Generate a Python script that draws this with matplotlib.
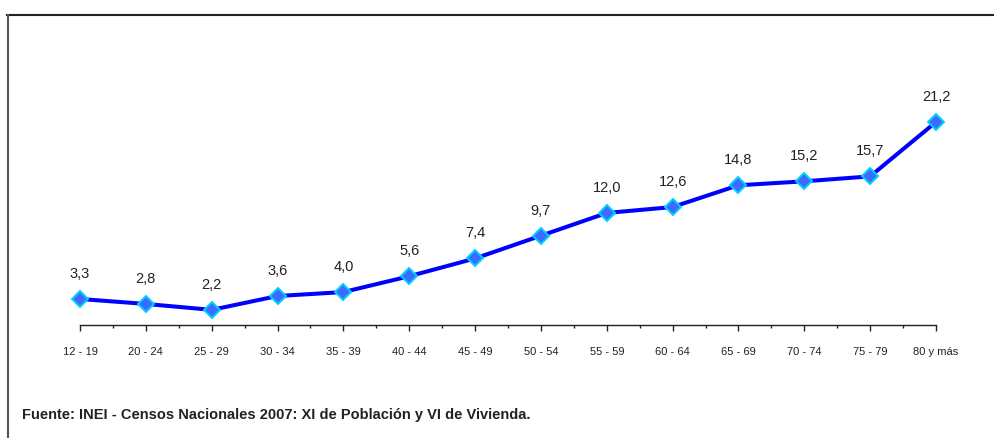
import numpy as np
import matplotlib.pyplot as plt
from matplotlib.lines import Line2D

plt.rcParams['font.family'] = ['Liberation Sans Narrow', 'Liberation Sans', 'DejaVu Sans']

# data
grupos = ['12 - 19', '20 - 24', '25 - 29', '30 - 34', '35 - 39', '40 - 44', '45 - 49',
          '50 - 54', '55 - 59', '60 - 64', '65 - 69', '70 - 74', '75 - 79', '80 y más']
valores = [3.3, 2.8, 2.2, 3.6, 4.0, 5.6, 7.4, 9.7, 12.0, 12.6, 14.8, 15.2, 15.7, 21.2]
fuente = 'Fuente: INEI - Censos Nacionales 2007: XI de Población y VI de Vivienda.'

W, H = 994, 438
fig = plt.figure(figsize=(W / 100, H / 100), dpi=100)

# axes placed in pixel terms
x0, x1 = 80, 936
y_axis, y_top = 325, 84.4
ax = fig.add_axes([x0 / W, (H - y_axis) / H, (x1 - x0) / W, (y_axis - y_top) / H])

x = np.arange(len(grupos))
ax.plot(x, valores, color='#0000FF', lw=2.9, marker='D', ms=8,
        mfc='#3D6BFF', mec='#00D0FF', mew=1.4, zorder=3, clip_on=False)

for xi, v in zip(x, valores):
    ax.annotate(f'{v:.1f}'.replace('.', ','), (xi, v), xytext=(0, 13),
                textcoords='offset points', ha='center', va='bottom',
                fontsize=10.5, color='#222222')

ax.set_xlim(0, len(grupos) - 1)
ax.set_ylim(0.67, 25)
ax.set_yticks([])
ax.set_xticks(x)
ax.set_xticklabels(grupos, fontsize=8, color='#222222')
ax.set_xticks(x[:-1] + 0.5, minor=True)
ax.tick_params(axis='x', which='major', length=4, width=1, pad=12, color='#222222')
ax.tick_params(axis='x', which='minor', length=2.5, width=1, color='#222222')
for s in ['top', 'right', 'left']:
    ax.spines[s].set_visible(False)
ax.spines['bottom'].set_color('#222222')
ax.spines['bottom'].set_linewidth(1)

# outer frame: top and left only
fig.add_artist(Line2D([7 / W, 993 / W], [(H - 14.5) / H, (H - 14.5) / H],
                      transform=fig.transFigure, color='#222222', lw=1.5))
fig.add_artist(Line2D([7.5 / W, 7.5 / W], [0, (H - 14.5) / H],
                      transform=fig.transFigure, color='#555555', lw=1.5))

fig.text(22 / W, (H - 415) / H, fuente, fontsize=10.5, fontweight='bold',
         color='#222222', va='center', ha='left')

fig.savefig('out.png', dpi=100)
